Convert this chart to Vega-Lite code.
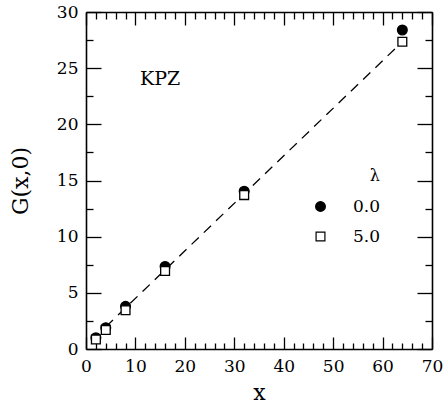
{
  "$schema": "https://vega.github.io/schema/vega-lite/v6.json",
  "width": 346,
  "height": 337,
  "autosize": {"type": "none"},
  "padding": {"left": 86, "top": 12, "right": 13, "bottom": 60},
  "background": "white",
  "config": {
    "view": {"stroke": null},
    "font": "DejaVu Serif",
    "axis": {
      "grid": false,
      "domainColor": "black",
      "domainWidth": 1.6,
      "tickColor": "black",
      "tickWidth": 1.3,
      "labelColor": "black",
      "titleColor": "black",
      "labelFont": "DejaVu Serif",
      "titleFont": "DejaVu Serif",
      "labelFontSize": 17,
      "titleFontSize": 22,
      "titleFontWeight": "normal",
      "labelFlush": false,
      "labelOverlap": false
    },
    "legend": {
      "labelFont": "DejaVu Serif",
      "titleFont": "DejaVu Serif"
    }
  },
  "datasets": {
    "pts": [
      {"x": 2, "G": 1.0, "lambda": "0.0"},
      {"x": 4, "G": 1.9, "lambda": "0.0"},
      {"x": 8, "G": 3.8, "lambda": "0.0"},
      {"x": 16, "G": 7.35, "lambda": "0.0"},
      {"x": 32, "G": 14.05, "lambda": "0.0"},
      {"x": 64, "G": 28.4, "lambda": "0.0"},
      {"x": 2, "G": 0.85, "lambda": "5.0"},
      {"x": 4, "G": 1.7, "lambda": "5.0"},
      {"x": 8, "G": 3.45, "lambda": "5.0"},
      {"x": 16, "G": 6.95, "lambda": "5.0"},
      {"x": 32, "G": 13.7, "lambda": "5.0"},
      {"x": 64, "G": 27.35, "lambda": "5.0"}
    ],
    "fit": [
      {"x": 4, "G": 1.97},
      {"x": 64, "G": 27.35}
    ],
    "ann": [
      {"x": 15, "G": 24, "text": "KPZ"}
    ]
  },
  "layer": [
    {
      "data": {"name": "fit"},
      "mark": {"type": "line", "color": "black", "strokeWidth": 1.3, "strokeDash": [10, 7]},
      "encoding": {
        "x": {
          "field": "x", "type": "quantitative",
          "scale": {"domain": [0, 70], "nice": false, "zero": false},
          "axis": {
            "orient": "bottom", "title": "x",
            "values": [0,2,4,6,8,10,12,14,16,18,20,22,24,26,28,30,32,34,36,38,40,42,44,46,48,50,52,54,56,58,60,62,64,66,68,70],
            "labelExpr": "datum.value % 10 === 0 ? datum.label : ''",
            "tickSize": {"condition": {"test": "datum.value % 10 === 0", "value": -12}, "value": -6},
            "labelPadding": 21,
            "titlePadding": 2
          }
        },
        "y": {
          "field": "G", "type": "quantitative",
          "scale": {"domain": [0, 30], "nice": false, "zero": false},
          "axis": {
            "orient": "left", "title": "G(x,0)",
            "values": [0,2.5,5,7.5,10,12.5,15,17.5,20,22.5,25,27.5,30],
            "labelExpr": "datum.value % 5 === 0 ? datum.label : ''",
            "tickSize": {"condition": {"test": "datum.value % 5 === 0", "value": -15}, "value": -7},
            "labelPadding": 23,
            "titlePadding": 24
          }
        }
      }
    },
    {
      "data": {"name": "pts"},
      "mark": {"type": "point", "stroke": "black", "strokeWidth": 1.3, "opacity": 1},
      "encoding": {
        "x": {
          "field": "x", "type": "quantitative",
          "scale": {"domain": [0, 70], "nice": false, "zero": false},
          "axis": {
            "orient": "top", "title": null, "labels": false,
            "values": [0,2,4,6,8,10,12,14,16,18,20,22,24,26,28,30,32,34,36,38,40,42,44,46,48,50,52,54,56,58,60,62,64,66,68,70],
            "tickSize": {"condition": {"test": "datum.value % 10 === 0", "value": -13}, "value": -7}
          }
        },
        "y": {
          "field": "G", "type": "quantitative",
          "scale": {"domain": [0, 30], "nice": false, "zero": false},
          "axis": {
            "orient": "right", "title": null, "labels": false,
            "values": [0,2.5,5,7.5,10,12.5,15,17.5,20,22.5,25,27.5,30],
            "tickSize": {"condition": {"test": "datum.value % 5 === 0", "value": -15}, "value": -7}
          }
        },
        "shape": {
          "field": "lambda", "type": "nominal",
          "scale": {"domain": ["0.0", "5.0"], "range": ["circle", "square"]},
          "legend": {
            "title": "λ",
            "orient": "none",
            "legendX": 226,
            "legendY": 156,
            "padding": 0,
            "titleFontSize": 16,
            "titleFontWeight": "normal",
            "titleAnchor": "end",
            "titlePadding": 14,
            "labelFontSize": 17,
            "labelOffset": 24,
            "rowPadding": 12,
            "symbolStrokeColor": "black",
            "symbolStrokeWidth": 1.2
          }
        },
        "fill": {
          "field": "lambda", "type": "nominal",
          "scale": {"domain": ["0.0", "5.0"], "range": ["black", "white"]}
        },
        "size": {
          "field": "lambda", "type": "nominal",
          "scale": {"domain": ["0.0", "5.0"], "range": [95, 78]}
        }
      }
    },
    {
      "data": {"name": "ann"},
      "mark": {"type": "text", "font": "DejaVu Serif", "fontSize": 19, "color": "black", "align": "center", "baseline": "middle"},
      "encoding": {
        "x": {"field": "x", "type": "quantitative", "scale": {"domain": [0, 70], "nice": false, "zero": false}, "axis": null},
        "y": {"field": "G", "type": "quantitative", "scale": {"domain": [0, 30], "nice": false, "zero": false}, "axis": null},
        "text": {"field": "text"}
      }
    }
  ],
  "resolve": {"axis": {"x": "independent", "y": "independent"}}
}
